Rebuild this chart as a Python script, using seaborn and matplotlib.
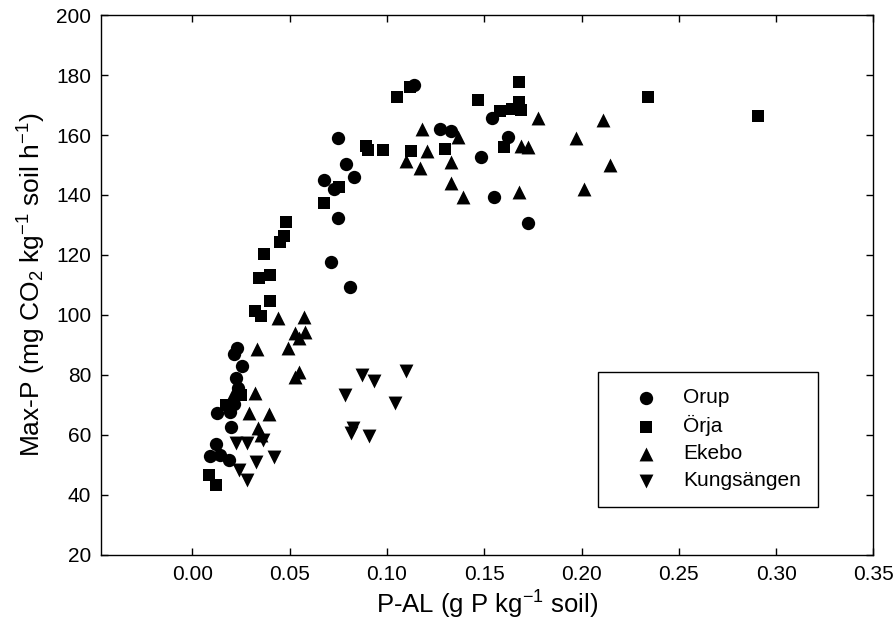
import pandas as pd
import matplotlib
matplotlib.use('Agg')
import matplotlib.pyplot as plt
import seaborn as sns

# site names as in the legend
sites = ['Orup', 'Örja', 'Ekebo', 'Kungsängen']

orup_x = [0.023, 0.0213, 0.0257, 0.0223, 0.0233, 0.0213, 0.0128, 0.0193, 0.0196,
          0.0119, 0.0090, 0.0144, 0.0188, 0.1138, 0.0747, 0.0790, 0.0829, 0.0678,
          0.0730, 0.0750, 0.0713, 0.0810, 0.1271, 0.1331, 0.1538, 0.1621, 0.1481,
          0.1550, 0.1727]
orup_y = [88.9, 86.9, 83.0, 79.1, 75.6, 70.2, 67.2, 67.7, 62.6,
          57.0, 52.9, 53.2, 51.7, 176.7, 159.0, 150.4, 146.0, 145.0,
          141.9, 132.4, 117.6, 109.3, 161.9, 161.4, 165.7, 159.5, 152.6,
          139.2, 130.8]

orja_x = [0.1119, 0.1050, 0.0892, 0.0902, 0.0979, 0.0755, 0.0678, 0.0479, 0.0469,
          0.0449, 0.0370, 0.0341, 0.0398, 0.0398, 0.0321, 0.0351, 0.1123, 0.1296,
          0.1469, 0.1581, 0.1680, 0.1680, 0.1640, 0.1690, 0.1601, 0.2343, 0.2908,
          0.0174, 0.0248, 0.0085, 0.0119]
orja_y = [175.9, 172.7, 156.5, 154.9, 155.0, 142.7, 137.3, 131.1, 126.3,
          124.3, 120.3, 112.4, 113.3, 104.7, 101.4, 99.6, 154.7, 155.5,
          171.7, 167.9, 177.7, 171.1, 168.8, 168.5, 156.1, 172.6, 166.4,
          70.0, 73.2, 46.7, 43.3]

ekebo_x = [0.0439, 0.0575, 0.0528, 0.0578, 0.0548, 0.0489, 0.0331, 0.0548, 0.0528,
           0.0213, 0.0321, 0.0292, 0.0394, 0.0338, 0.0351, 0.1181, 0.1207, 0.1099,
           0.1172, 0.1331, 0.1328, 0.1392, 0.1365, 0.1778, 0.1690, 0.1722, 0.1680,
           0.1971, 0.2013, 0.2111, 0.2144]
ekebo_y = [98.9, 99.3, 93.9, 94.3, 92.4, 88.9, 88.6, 81.0, 79.3,
           74.4, 73.9, 67.2, 67.0, 62.3, 60.0, 161.9, 154.7, 151.4,
           148.9, 150.9, 143.9, 139.2, 159.5, 165.7, 156.5, 155.9, 141.1,
           159.0, 141.9, 165.1, 150.0]

kung_x = [0.0223, 0.0282, 0.0361, 0.0420, 0.0325, 0.0239, 0.0282, 0.0872, 0.0932,
          0.1096, 0.0784, 0.1040, 0.0826, 0.0813, 0.0908]
kung_y = [57.2, 57.2, 58.3, 52.8, 51.1, 48.4, 45.0, 80.0, 77.9,
          81.4, 73.3, 70.7, 62.4, 60.7, 59.8]

x_ticks = [0.00, 0.05, 0.10, 0.15, 0.20, 0.25, 0.30, 0.35]
y_ticks = [20, 40, 60, 80, 100, 120, 140, 160, 180, 200]

frames = []
for name, xs, ys in zip(sites, [orup_x, orja_x, ekebo_x, kung_x],
                        [orup_y, orja_y, ekebo_y, kung_y]):
    frames.append(pd.DataFrame({'PAL': xs, 'MaxP': ys, 'site': name}))
df = pd.concat(frames, ignore_index=True)

sns.set_style('ticks')
plt.rcParams['font.family'] = ['Liberation Sans', 'DejaVu Sans']
plt.rcParams['mathtext.fontset'] = 'custom'
plt.rcParams['mathtext.rm'] = 'Liberation Sans'
plt.rcParams['mathtext.it'] = 'Liberation Sans'
plt.rcParams['text.color'] = 'black'
plt.rcParams['axes.labelcolor'] = 'black'

fig = plt.figure(figsize=(8.94, 6.27), dpi=100)
ax = fig.add_axes([0.113, 0.115, 0.864, 0.861])

markers = {'Orup': 'o', 'Örja': 's', 'Ekebo': '^', 'Kungsängen': 'v'}
sizes = {'Orup': 92, 'Örja': 74, 'Ekebo': 100, 'Kungsängen': 100}
for name in sites:
    sns.scatterplot(data=df[df['site'] == name], x='PAL', y='MaxP',
                    marker=markers[name], s=sizes[name], color='black',
                    edgecolor='black', linewidth=0, label=name, ax=ax)

ax.set_xlim(-0.047, 0.35)
ax.set_ylim(20, 200)
ax.set_xticks(x_ticks)
ax.set_xticklabels([f'{t:.2f}' for t in x_ticks])
ax.set_yticks(y_ticks)
ax.tick_params(direction='in', top=True, right=True, length=5, width=1,
               labelsize=15, colors='black', pad=7)
for sp in ax.spines.values():
    sp.set_linewidth(1.0)
    sp.set_color('black')

ax.set_xlabel(r'P-AL (g P kg$^{-1}$ soil)', fontsize=18.5, labelpad=4)
ax.set_ylabel(r'Max-P (mg CO$_2$ kg$^{-1}$ soil h$^{-1}$)', fontsize=19, labelpad=6)

leg = ax.legend(loc='lower right', bbox_to_anchor=(0.928, 0.089), fontsize=15,
                frameon=True, fancybox=False, edgecolor='black', framealpha=1,
                labelspacing=0.38, handletextpad=0.3, borderpad=0.8,
                borderaxespad=0, handlelength=3.0)
leg.get_frame().set_linewidth(1.0)

fig.savefig('out.png', dpi=100)
